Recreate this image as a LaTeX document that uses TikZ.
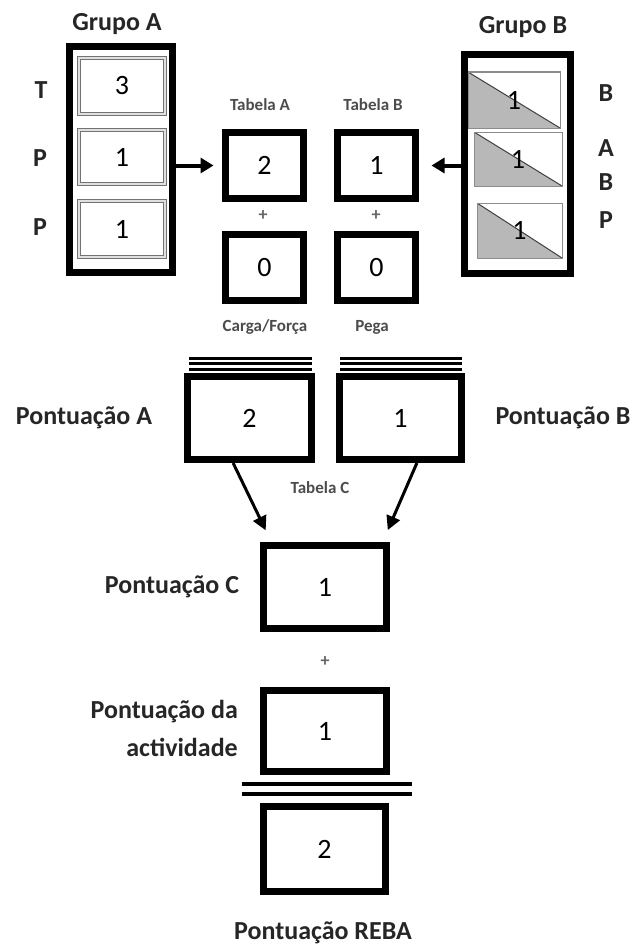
\documentclass[tikz,border=0pt]{standalone}
\usepackage{fontspec}
\setmainfont{Carlito}
\usetikzlibrary{arrows.meta,calc}
\tikzset{
  bigbox/.style={draw=black, line width=7pt, fill=white, inner sep=0pt, font=\fontsize{28}{30}\selectfont},
  lbl/.style={font=\bfseries\fontsize{26}{30}\selectfont, text=black!85, inner sep=0pt},
  small/.style={font=\bfseries\fontsize{17}{20}\selectfont, text=black!70, inner sep=0pt},
  graybox/.style={draw=black!55, double=black!12, double distance=1.4pt, line width=0.9pt, minimum width=86pt, inner sep=0pt, font=\fontsize{28}{30}\selectfont},
  tribox/.style={draw=black!45, line width=1pt, inner sep=0pt, font=\fontsize{28}{30}\selectfont,
    path picture={\fill[black!28] (path picture bounding box.north west) -- (path picture bounding box.south east) -- (path picture bounding box.south west) -- cycle;
      \draw[black!75, line width=1pt] (path picture bounding box.north west) -- (path picture bounding box.south east);}},
  arr/.style={line width=4pt, -{Triangle[length=13pt,width=15pt]}},
  arrc/.style={line width=3pt, -{Triangle[length=14pt,width=14pt]}},
  bars/.style={line width=3pt},
  plus/.style={font=\bfseries\fontsize{18}{20}\selectfont, text=black!60, inner sep=0pt}
}
\begin{document}
\begin{tikzpicture}[x=1pt,y=-1pt]
\useasboundingbox[fill=white] (0,0) rectangle (636,950);

% Grupo A
\node[lbl] (gAlbl) at (117,24) {Grupo A};
\node[bigbox, minimum width=103pt, minimum height=226pt] (gA) at (121,159.5) {};
\node[graybox, minimum height=56pt] (a1) at (122,86) {3};
\node[graybox, minimum height=54pt] (a2) at (122,157) {1};
\node[graybox, minimum height=56pt] (a3) at (122,229) {1};
\node[lbl] (lT) at (41,90) {T};
\node[lbl] (lP1) at (40,158) {P};
\node[lbl] (lP2) at (40,227) {P};

% Tabela A
\node[small] (tAlbl) at (260,105) {Tabela A};
\node[bigbox, minimum width=78pt, minimum height=66pt] (tA) at (264.5,165.5) {2};
\node[plus] (plA) at (263,216) {+};
\node[bigbox, minimum width=78pt, minimum height=66pt] (tA0) at (264.5,267.5) {0};
\node[small] (carga) at (265,327) {Carga/Força};

% Tabela B
\node[small] (tBlbl) at (373,105) {Tabela B};
\node[bigbox, minimum width=78pt, minimum height=66pt] (tB) at (376.5,165.5) {1};
\node[plus] (plB) at (376,216) {+};
\node[bigbox, minimum width=78pt, minimum height=66pt] (tB0) at (376.5,267.5) {0};
\node[small] (pega) at (372,327) {Pega};

% Grupo B
\node[lbl] (gBlbl) at (523,27) {Grupo B};
\node[bigbox, minimum width=106pt, minimum height=219pt] (gB) at (517.5,164) {};
\node[tribox, minimum width=92pt, minimum height=56pt] (b1) at (514,100) {1};
\node[tribox, minimum width=88pt, minimum height=54pt] (b2) at (518,159) {1};
\node[tribox, minimum width=85pt, minimum height=55pt] (b3) at (519.5,230.5) {1};
\node[lbl] (lB1) at (606,93) {B};
\node[lbl] (lA) at (606,148) {A};
\node[lbl] (lB2) at (606,182) {B};
\node[lbl] (lP3) at (606,220) {P};

% arrows top
\draw[arr, shorten >=8.5pt] (gA.east |- tA.west) -- (tA.west);
\draw[arr, shorten >=12.5pt] (gB.west |- tB.east) -- (tB.east);

% Pontuacao A / B
\node[bigbox, minimum width=124pt, minimum height=83pt] (pA) at (249.5,418) {2};
\node[bigbox, minimum width=122pt, minimum height=83pt] (pB) at (400.5,418) {1};
\coordinate (barAl) at (189,358);
\coordinate (barAr) at (312,358);
\coordinate (barBl) at (340,358);
\coordinate (barBr) at (462,358);
\foreach \d in {0,5.5,11}{
  \draw[bars] ($(barAl)+(0,\d)$) -- ($(barAr)+(0,\d)$);
  \draw[bars] ($(barBl)+(0,\d)$) -- ($(barBr)+(0,\d)$);
}
\node[lbl] (pAlbl) at (84,418) {Pontuação A};
\node[lbl] (pBlbl) at (563,418) {Pontuação B};

\node[small] (tC) at (320,488) {Tabela C};

% Pontuacao C
\node[bigbox, minimum width=123pt, minimum height=83pt] (pC) at (325,587) {1};
\node[lbl] (pClbl) at (172,587) {Pontuação C};
\draw[arrc, shorten >=13pt] (pA.250) -- (pC.140);
\draw[arrc, shorten >=13pt] (pB.290) -- (pC.38);

\node[plus] (plC) at (325,662) {+};

% Pontuacao da actividade
\node[bigbox, minimum width=123pt, minimum height=81pt] (pAct) at (325,731) {1};
\node[lbl, align=right, anchor=east, font=\bfseries\fontsize{26}{38}\selectfont] (pActlbl) at (238,728) {Pontuação da\\actividade};

% double bar
\coordinate (dbl) at (242,784);
\coordinate (dbr) at (412,784);
\draw[line width=4pt] (dbl) -- (dbr);
\draw[line width=4pt] ($(dbl)+(0,10)$) -- ($(dbr)+(0,10)$);

% REBA
\node[bigbox, minimum width=122pt, minimum height=85pt] (reba) at (324.5,849) {2};
\node[lbl] (rebalbl) at (323,933) {Pontuação REBA};
\end{tikzpicture}
\end{document}
